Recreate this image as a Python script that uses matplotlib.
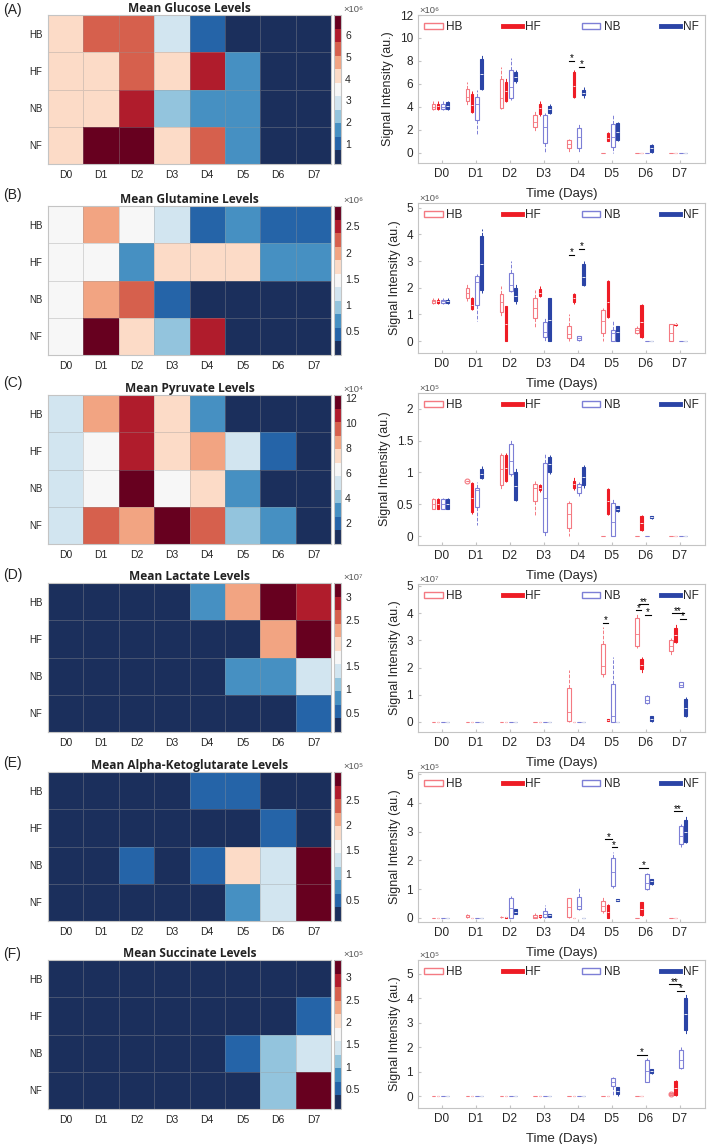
import matplotlib.pyplot as plt
import numpy as np
from matplotlib import patches
from matplotlib.cm import ScalarMappable
from matplotlib.colors import ListedColormap, Normalize
from matplotlib.lines import Line2D

plt.rcParams['font.family'] = ['Liberation Sans', 'DejaVu Sans']

days = ['D0', 'D1', 'D2', 'D3', 'D4', 'D5', 'D6', 'D7']
groups = ['HB', 'HF', 'NB', 'NF']
titles = ['Mean Glucose Levels', 'Mean Glutamine Levels',
          'Mean Pyruvate Levels', 'Mean Lactate Levels',
          'Mean Alpha-Ketoglutarate Levels', 'Mean Succinate Levels']
tags = ['(A)', '(B)', '(C)', '(D)', '(E)', '(F)']

# heatmap means (rows HB, HF, NB, NF; columns D0..D7)
glucose_mean = [[4.1, 5.2, 5.3, 2.8, 0.9, 0.1, 0.1, 0.1],
                [4.1, 4.3, 5.4, 3.9, 6.0, 1.4, 0.1, 0.1],
                [4.1, 4.0, 5.9, 2.2, 1.5, 1.6, 0.1, 0.1],
                [4.1, 6.9, 6.6, 3.9, 5.3, 1.8, 0.4, 0.1]]
glutamine_mean = [[1.5, 1.9, 1.45, 1.2, 0.45, 0.7, 0.4, 0.35],
                  [1.5, 1.4, 0.65, 1.8, 1.6, 1.7, 0.7, 0.6],
                  [1.5, 2.0, 2.2, 0.4, 0.1, 0.2, 0.04, 0.04],
                  [1.5, 2.89, 1.75, 0.9, 2.5, 0.25, 0.05, 0.05]]
pyruvate_mean = [[5.0, 8.5, 10.5, 7.2, 3.0, 0.3, 0.3, 0.3],
                 [5.0, 6.0, 10.8, 7.5, 8.2, 5.5, 2.0, 0.3],
                 [5.0, 6.5, 12.0, 6.0, 7.8, 2.8, 0.3, 0.3],
                 [5.0, 9.8, 8.5, 11.5, 9.4, 4.2, 3.0, 0.3]]
lactate_mean = [[0.08, 0.08, 0.08, 0.08, 0.8, 2.3, 3.3, 2.85],
                [0.08, 0.08, 0.08, 0.08, 0.08, 0.1, 2.15, 3.15],
                [0.08, 0.08, 0.08, 0.08, 0.08, 0.75, 0.8, 1.35],
                [0.08, 0.08, 0.08, 0.08, 0.08, 0.08, 0.1, 0.55]]
akg_mean = [[0.07, 0.08, 0.07, 0.1, 0.4, 0.45, 0.07, 0.07],
            [0.07, 0.07, 0.07, 0.1, 0.07, 0.2, 0.4, 0.07],
            [0.07, 0.07, 0.4, 0.15, 0.5, 1.75, 1.25, 2.9],
            [0.07, 0.07, 0.22, 0.1, 0.07, 0.65, 1.3, 3.05]]
succinate_mean = [[0.05, 0.05, 0.05, 0.05, 0.05, 0.05, 0.05, 0.1],
                  [0.05, 0.05, 0.05, 0.05, 0.05, 0.05, 0.05, 0.4],
                  [0.05, 0.05, 0.05, 0.05, 0.05, 0.6, 1.1, 1.5],
                  [0.05, 0.05, 0.05, 0.05, 0.05, 0.2, 1.05, 3.35]]

# colour limits and colorbar ticks
color_limits = [(0.1, 6.9), (0.04, 2.89), (0.28, 12.27),
                (0.08, 3.3), (0.07, 3.05), (0.05, 3.39)]
cbar_ticks = [[1, 2, 3, 4, 5, 6], [0.5, 1, 1.5, 2, 2.5],
              [2, 4, 6, 8, 10, 12], [0.5, 1, 1.5, 2, 2.5, 3],
              [0.5, 1, 1.5, 2, 2.5], [0.5, 1, 1.5, 2, 2.5, 3]]
cbar_exp = ['6', '6', '4', '7', '5', '5']
box_exp = ['6', '6', '5', '7', '5', '5']

# box stats per day: (low whisker, q1, median, q3, high whisker)
Z = (0, 0, 0, 0, 0)
glucose_hb = [(3.7, 3.8, 4.0, 4.3, 4.5), (4.2, 4.5, 4.9, 5.6, 6.2),
              (3.8, 3.95, 4.8, 6.4, 7.5), (1.8, 2.3, 2.7, 3.3, 3.7),
              (0.0, 0.4, 0.8, 1.1, 1.2), Z, Z, Z]
glucose_hf = [(3.7, 3.8, 4.1, 4.3, 4.5), (3.5, 3.6, 4.2, 5.1, 5.4),
              (4.4, 4.5, 5.4, 6.2, 6.5), (3.2, 3.4, 3.9, 4.3, 4.5),
              (4.8, 4.9, 5.8, 7.0, 7.2), (1.0, 1.0, 1.3, 1.7, 1.8), Z, Z]
glucose_nb = [(3.7, 3.8, 4.0, 4.3, 4.5), (1.6, 2.9, 4.3, 4.9, 5.5),
              (4.6, 4.8, 5.7, 7.2, 8.3), (0.0, 0.9, 2.3, 3.3, 3.5),
              (0.0, 0.45, 1.35, 2.2, 2.6), (0.0, 0.5, 1.4, 2.5, 3.3), Z, Z]
glucose_nf = [(3.7, 3.8, 4.1, 4.4, 4.5), (5.5, 5.6, 6.9, 8.2, 8.6),
              (6.1, 6.3, 6.6, 7.0, 7.2), (3.4, 3.5, 3.8, 4.1, 4.3),
              (4.8, 5.0, 5.2, 5.5, 5.7), (1.0, 1.1, 1.8, 2.6, 2.7),
              (0.0, 0.1, 0.4, 0.7, 0.75), Z]

glutamine_hb = [(1.4, 1.43, 1.5, 1.55, 1.6), (1.5, 1.6, 1.8, 2.0, 2.15),
                (0.9, 1.08, 1.45, 1.76, 2.05), (0.5, 0.88, 1.25, 1.6, 1.9),
                (0.0, 0.1, 0.25, 0.55, 1.0), (0.0, 0.3, 0.75, 1.15, 1.25),
                (0.28, 0.3, 0.4, 0.5, 0.55), (0.0, 0.0, 0.3, 0.65, 0.65)]
glutamine_hf = [(1.4, 1.43, 1.5, 1.55, 1.6), (1.15, 1.2, 1.35, 1.6, 1.65),
                (0.0, 0.0, 0.65, 1.3, 1.3), (1.65, 1.7, 1.8, 1.95, 2.05),
                (1.4, 1.45, 1.6, 1.75, 1.8), (0.85, 0.9, 1.45, 2.25, 2.3),
                (0.1, 0.15, 0.7, 1.35, 1.4), (0.58, 0.59, 0.62, 0.65, 0.66)]
glutamine_nb = [(1.4, 1.43, 1.5, 1.55, 1.6), (0.75, 1.36, 2.2, 2.45, 2.5),
                (1.85, 1.88, 2.1, 2.57, 3.0), (0.0, 0.15, 0.35, 0.7, 0.9),
                (0.0, 0.02, 0.1, 0.18, 0.2), (0.0, 0.0, 0.3, 0.4, 0.75), Z, Z]
glutamine_nf = [(1.4, 1.43, 1.5, 1.55, 1.6), (1.8, 1.9, 2.9, 3.95, 4.2),
                (1.4, 1.5, 1.7, 2.0, 2.15), (0.0, 0.0, 0.8, 1.6, 1.6),
                (2.05, 2.1, 2.4, 2.9, 3.0), (0.0, 0.0, 0.35, 0.55, 0.55), Z, Z]

pyruvate_hb = [(0.42, 0.43, 0.5, 0.58, 0.6), (0.87, 0.87, 0.87, 0.87, 0.87),
               (0.72, 0.8, 1.05, 1.27, 1.3), (0.33, 0.55, 0.75, 0.82, 0.87),
               (0.0, 0.12, 0.35, 0.52, 0.55), Z, Z, Z]
pyruvate_hf = [(0.42, 0.43, 0.5, 0.58, 0.6), (0.35, 0.38, 0.6, 0.83, 0.85),
               (0.85, 0.87, 1.07, 1.27, 1.3), (0.7, 0.72, 0.76, 0.8, 0.82),
               (0.73, 0.75, 0.82, 0.87, 0.93), (0.33, 0.35, 0.55, 0.74, 0.76),
               (0.08, 0.1, 0.2, 0.32, 0.33), Z]
pyruvate_nb = [(0.42, 0.43, 0.5, 0.58, 0.6), (0.18, 0.45, 0.72, 0.75, 0.85),
               (0.95, 0.98, 1.18, 1.45, 1.52), (0.0, 0.07, 0.6, 1.15, 1.3),
               (0.63, 0.68, 0.77, 0.82, 0.85), (0.0, 0.0, 0.22, 0.52, 0.6),
               Z, Z]
pyruvate_nf = [(0.42, 0.43, 0.5, 0.58, 0.6), (0.9, 0.92, 0.98, 1.05, 1.1),
               (0.55, 0.57, 0.78, 1.0, 1.07), (0.97, 1.0, 1.13, 1.25, 1.27),
               (0.75, 0.8, 0.93, 1.08, 1.12), (0.38, 0.4, 0.43, 0.47, 0.48),
               (0.27, 0.28, 0.3, 0.31, 0.32), Z]

lactate_hb = [Z, Z, Z, Z, (0.0, 0.04, 0.35, 1.23, 1.9),
              (1.65, 1.76, 2.05, 2.86, 3.5), (2.7, 2.8, 3.25, 3.82, 4.0),
              (2.45, 2.6, 2.8, 3.0, 3.1)]
lactate_hf = [Z, Z, Z, Z, Z, (0.04, 0.05, 0.07, 0.1, 0.1),
              (1.8, 1.95, 2.1, 2.3, 2.4), (2.9, 2.93, 3.2, 3.45, 3.6)]
lactate_nb = [Z, Z, Z, Z, Z, (0.0, 0.0, 0.2, 1.4, 2.4),
              (0.65, 0.7, 0.8, 0.95, 1.0), (1.28, 1.3, 1.35, 1.45, 1.48)]
lactate_nf = [Z, Z, Z, Z, Z, Z, (0.0, 0.05, 0.12, 0.2, 0.2),
              (0.18, 0.2, 0.5, 0.86, 0.9)]

akg_hb = [Z, (0.0, 0.02, 0.05, 0.1, 0.15), (0.0, 0.02, 0.04, 0.05, 0.06),
          (0.0, 0.0, 0.05, 0.12, 0.17), (0.0, 0.02, 0.38, 0.68, 0.7),
          (0.18, 0.25, 0.4, 0.6, 0.78), Z, Z]
akg_hf = [Z, Z, (0.0, 0.01, 0.03, 0.04, 0.05), (0.0, 0.02, 0.06, 0.1, 0.1),
          Z, (0.0, 0.0, 0.22, 0.45, 0.48), (0.08, 0.1, 0.3, 0.55, 0.57), Z]
akg_nb = [Z, Z, (0.0, 0.0, 0.35, 0.69, 0.75), (0.0, 0.02, 0.15, 0.25, 0.45),
          (0.28, 0.32, 0.4, 0.72, 1.05), (1.05, 1.1, 1.6, 2.1, 2.3),
          (0.97, 1.0, 1.2, 1.52, 1.55), (2.45, 2.57, 2.85, 3.2, 3.25)]
akg_nf = [Z, Z, (0.13, 0.15, 0.22, 0.3, 0.32), (0.02, 0.03, 0.1, 0.15, 0.15),
          Z, (0.6, 0.6, 0.63, 0.67, 0.67), (1.15, 1.18, 1.27, 1.35, 1.35),
          (2.6, 2.65, 3.0, 3.4, 3.55)]

succinate_hb = [Z, Z, Z, Z, Z, Z, Z, (0.05, 0.05, 0.08, 0.12, 0.12)]
succinate_hf = [Z, Z, Z, Z, Z, Z, Z, (0.0, 0.07, 0.35, 0.61, 0.65)]
succinate_nb = [Z, Z, Z, Z, Z, (0.0, 0.41, 0.6, 0.75, 0.8),
                (0.58, 0.59, 1.05, 1.5, 1.55), (1.1, 1.15, 1.5, 1.9, 2.0)]
succinate_nf = [Z, Z, Z, Z, Z, (0.0, 0.1, 0.22, 0.38, 0.4),
                (0.93, 0.95, 1.02, 1.1, 1.12), (2.55, 2.72, 3.35, 4.0, 4.15)]

# outliers: (group, day, value)
pyruvate_out = [('HB', 1, 0.87)]
succinate_out = [('HB', 7, 0.08)]

# significance bars: (x start, x end, y, label)
glucose_sig = [(3.75, 3.89, 8.0, '*'), (4.04, 4.18, 7.5, '*')]
glutamine_sig = [(3.75, 3.89, 3.23, '*'), (4.04, 4.18, 3.47, '*')]
pyruvate_sig = []
lactate_sig = [(4.75, 4.89, 3.65, '*'), (5.73, 5.87, 4.1, '*'),
               (5.82, 6.08, 4.32, '**'), (5.98, 6.16, 3.94, '*'),
               (6.78, 7.13, 4.0, '**'), (7.0, 7.18, 3.8, '*')]
akg_sig = [(4.82, 5.02, 2.74, '*'), (5.0, 5.15, 2.45, '*'),
           (5.8, 6.08, 1.74, '*'), (6.83, 7.08, 3.7, '**')]
succinate_sig = [(5.75, 6.05, 1.7, '*'), (6.7, 7.0, 4.56, '**'),
                 (6.93, 7.13, 4.29, '*')]

means = [glucose_mean, glutamine_mean, pyruvate_mean, lactate_mean,
         akg_mean, succinate_mean]
boxes = [[glucose_hb, glucose_hf, glucose_nb, glucose_nf],
         [glutamine_hb, glutamine_hf, glutamine_nb, glutamine_nf],
         [pyruvate_hb, pyruvate_hf, pyruvate_nb, pyruvate_nf],
         [lactate_hb, lactate_hf, lactate_nb, lactate_nf],
         [akg_hb, akg_hf, akg_nb, akg_nf],
         [succinate_hb, succinate_hf, succinate_nb, succinate_nf]]
outliers = [[], [], pyruvate_out, [], [], succinate_out]
sigs = [glucose_sig, glutamine_sig, pyruvate_sig, lactate_sig, akg_sig,
        succinate_sig]
box_ylims = [(-0.87, 12), (-0.45, 5.18), (-0.14, 2.25), (-0.37, 5.07),
             (-0.14, 5.07), (-0.47, 5.55)]
box_yticks = [[0, 2, 4, 6, 8, 10, 12], [0, 1, 2, 3, 4, 5],
              [0, 0.5, 1, 1.5, 2], [0, 1, 2, 3, 4, 5], [0, 1, 2, 3, 4, 5],
              [0, 1, 2, 3, 4, 5]]

heat_colors = ['#1b2f5c', '#2564a8', '#4690c2', '#93c4dd', '#d2e5f0',
               '#f7f7f7', '#fcdbc7', '#f2a482', '#d6604d', '#b01c2c',
               '#67001f']
cmap = ListedColormap(heat_colors)
group_colors = ['#f47a82', '#ee1c25', '#7d7fd6', '#2b44a6']
offsets = [-0.25, -0.11, 0.04, 0.18]
widths = [0.1, 0.08, 0.1, 0.09]
filled = [False, True, False, True]
sup = {'4': '⁴', '5': '⁵', '6': '⁶', '7': '⁷'}

W, H = 709, 1144
fig = plt.figure(figsize=(W / 100, H / 100), dpi=100)


def px_axes(left, top, right, bottom):
    return fig.add_axes([left / W, 1 - bottom / H,
                         (right - left) / W, (bottom - top) / H])


heat_tops = [15, 206, 395, 583, 772, 960]
box_tops = [15, 203, 393, 584, 772, 960]
box_bottoms = [163, 353, 545, 732, 922, 1108]
tag_y = [10, 195, 383, 575, 763, 954]
grid_col = '#c4c4c4'
text_col = '#262626'

for i in range(6):
    # heatmap
    top = heat_tops[i]
    ax = px_axes(48, top, 331, top + 149)
    vmin, vmax = color_limits[i]
    norm = Normalize(vmin, vmax)
    ax.pcolormesh(np.array(means[i]), cmap=cmap, norm=norm,
                  edgecolors=(0.6, 0.6, 0.6, 0.35), linewidth=0.6)
    ax.set_xlim(0, 8)
    ax.set_ylim(4, 0)
    ax.set_xticks(np.arange(8) + 0.5, days)
    ax.set_yticks(np.arange(4) + 0.5, groups)
    ax.tick_params(length=0, labelsize=7.5, colors=text_col, pad=4)
    ax.tick_params(axis='y', labelsize=7, pad=4)
    for s in ax.spines.values():
        s.set_color(grid_col)
        s.set_linewidth(0.8)
    ax.set_title(titles[i], fontsize=8.6, fontweight='bold',
                 family=['Open Sans', 'DejaVu Sans'], color='#222222', pad=2)
    fig.text(3 / W, 1 - tag_y[i] / H, tags[i], fontsize=10, va='center',
             color='#222222')

    cax = px_axes(334, top, 341, top + 149)
    cb = fig.colorbar(ScalarMappable(norm=norm, cmap=cmap), cax=cax)
    cb.set_ticks(cbar_ticks[i])
    cb.set_ticklabels([f'{t:g}' for t in cbar_ticks[i]])
    cb.outline.set_edgecolor(grid_col)
    cb.outline.set_linewidth(0.8)
    cax.tick_params(length=0, labelsize=7.5, colors=text_col, pad=3)
    cax.text(1.3, 1.01, '×10' + sup[cbar_exp[i]],
             transform=cax.transAxes, fontsize=6.8, color='#555555',
             va='bottom', ha='left')

    # box plots
    bx = px_axes(418, box_tops[i], 705, box_bottoms[i])
    for g in range(4):
        col = group_colors[g]
        stats = []
        for d, (lo, q1, med, q3, hi) in enumerate(boxes[i][g]):
            fl = [v for (gg, dd, v) in outliers[i]
                  if gg == groups[g] and dd == d]
            stats.append(dict(whislo=lo, q1=q1, med=med, q3=q3, whishi=hi,
                              fliers=fl))
        if filled[g]:
            boxprops = dict(facecolor=col, edgecolor=col, linewidth=0.8)
            medprops = dict(color='white', linewidth=0.6)
        else:
            boxprops = dict(facecolor='none', edgecolor=col, linewidth=0.8)
            medprops = dict(color=col, linewidth=0.6)
        bx.bxp(stats, positions=np.arange(8) + offsets[g], widths=widths[g],
               patch_artist=True, showcaps=False, manage_ticks=False,
               boxprops=boxprops, medianprops=medprops,
               whiskerprops=dict(color=col, linestyle='--', linewidth=0.7),
               flierprops=dict(marker='o', markeredgecolor=col,
                               markerfacecolor='none', markersize=3.5,
                               markeredgewidth=0.8))
    for x0, x1, y, lab in sigs[i]:
        bx.plot([x0, x1], [y, y], color='black', linewidth=0.8)
        bx.annotate(lab, ((x0 + x1) / 2, y), xytext=(0, 1.8),
                    textcoords='offset points', ha='center', va='center',
                    fontsize=7, color='black')
    bx.set_xlim(-0.7, 7.75)
    bx.set_ylim(*box_ylims[i])
    bx.set_xticks(np.arange(8), days)
    bx.set_yticks(box_yticks[i], [f'{t:g}' for t in box_yticks[i]])
    bx.tick_params(direction='in', length=2, color=grid_col, labelsize=8.5,
                   labelcolor=text_col)
    for s in bx.spines.values():
        s.set_color(grid_col)
        s.set_linewidth(0.8)
    bx.set_xlabel('Time (Days)', fontsize=9.5, color=text_col, labelpad=6)
    bx.set_ylabel('Signal Intensity (au.)', fontsize=9, color=text_col,
                  labelpad=4)
    bx.text(0.005, 1.0, '×10' + sup[box_exp[i]],
            transform=bx.transAxes, fontsize=6.8, color='#555555',
            va='bottom', ha='left')
    handles = [
        patches.Patch(facecolor='white', edgecolor=group_colors[0], lw=1),
        Line2D([], [], color=group_colors[1], lw=3.5),
        patches.Patch(facecolor='white', edgecolor=group_colors[2], lw=1),
        Line2D([], [], color=group_colors[3], lw=3.5),
    ]
    bx.legend(handles, groups, ncol=4, mode='expand', frameon=False,
              loc='upper left', bbox_to_anchor=(0.0, 1.0, 1.0, 0.0),
              fontsize=8.5, handlelength=1.6, handleheight=0.45,
              handletextpad=0.3, borderaxespad=0.3, borderpad=0.2,
              labelcolor=text_col)

fig.savefig('out.png', dpi=100)
